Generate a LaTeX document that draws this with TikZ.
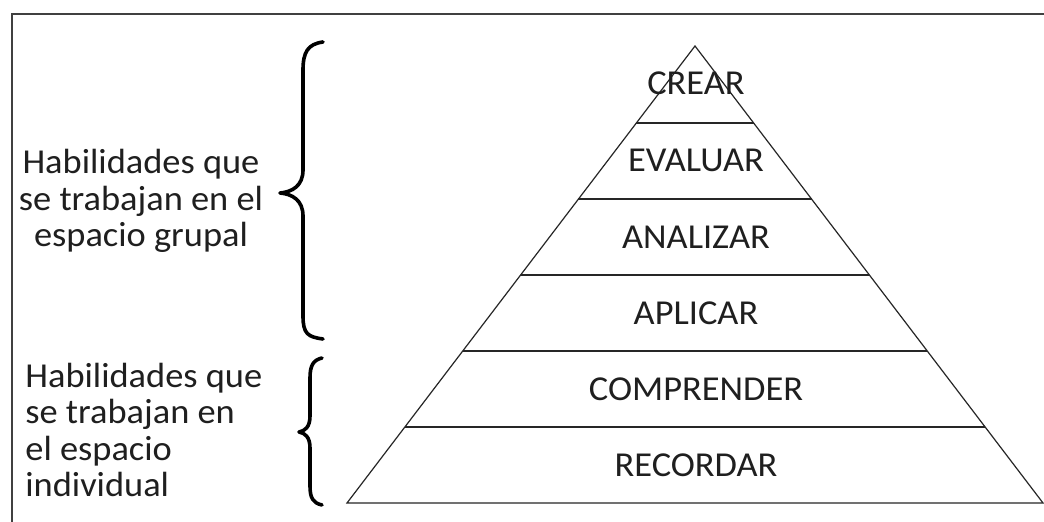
\documentclass[tikz,border=0pt]{standalone}
\usepackage{fontspec}
\setmainfont{Carlito}[FakeStretch=1.04]
\usetikzlibrary{calc}
\tikzset{
  lvl/.style={inner sep=0pt, text=black!88, font=\fontsize{17.5pt}{18pt}\selectfont},
  sidetext/.style={inner sep=0pt, text=black!88, font=\fontsize{17.5pt}{18.3pt}\selectfont},
  pyr/.style={line width=0.6pt, color=black!85},
  lvlline/.style={line width=0.6pt, color=black!85},
  bracestyle/.style={line width=1.8pt, line cap=round, line join=round},
  frame/.style={line width=1pt, color=black!75}
}
\begin{document}
\begin{tikzpicture}[x=0.5pt, y=-0.5pt]
\useasboundingbox (0,0) rectangle (1044,522);
\fill[white] (0,0) rectangle (1044,522);
% frame
\draw[frame] (12,522) -- (12,14) -- (1044,14);
% pyramid
\coordinate (apex) at (695,46);
\coordinate (bl) at (347,503);
\coordinate (br) at (1043,503);
\draw[pyr] (apex) -- (bl) -- (br) -- cycle;
\foreach \t in {0.1685,0.3348,0.5011,0.6674,0.8337}{
  \draw[lvlline] ($(apex)!\t!(bl)$) -- ($(apex)!\t!(br)$);
}
% level labels
\node[lvl] (crear) at (696,83) {CREAR};
\node[lvl] (evaluar) at (696,160) {EVALUAR};
\node[lvl] (analizar) at (696,237) {ANALIZAR};
\node[lvl] (aplicar) at (696,313) {APLICAR};
\node[lvl] (comprender) at (696,389) {COMPRENDER};
\node[lvl] (recordar) at (696,465) {RECORDAR};
% side texts (base anchor = last line baseline)
\node[sidetext, align=center, anchor=base] (grupal) at (141,247)
  {Habilidades que\\se trabajan en el\\espacio grupal};
\node[sidetext, align=left, anchor=base west] (individual) at (25,497)
  {Habilidades que\\se trabajan en\\el espacio\\individual};
% braces
\draw[bracestyle] (323,42) .. controls (308,44) and (303,52) .. (303,70)
  -- (303,170) .. controls (303,186) and (292,192) .. (280,193)
  .. controls (292,194) and (303,200) .. (303,216)
  -- (303,316) .. controls (303,334) and (308,337) .. (323,339);
\draw[bracestyle] (322,358) .. controls (313,360) and (310,366) .. (310,378)
  -- (310,416) .. controls (310,427) and (305,431) .. (299,432)
  .. controls (305,433) and (310,437) .. (310,448)
  -- (310,486) .. controls (310,498) and (313,503) .. (322,505);
\end{tikzpicture}
\end{document}
